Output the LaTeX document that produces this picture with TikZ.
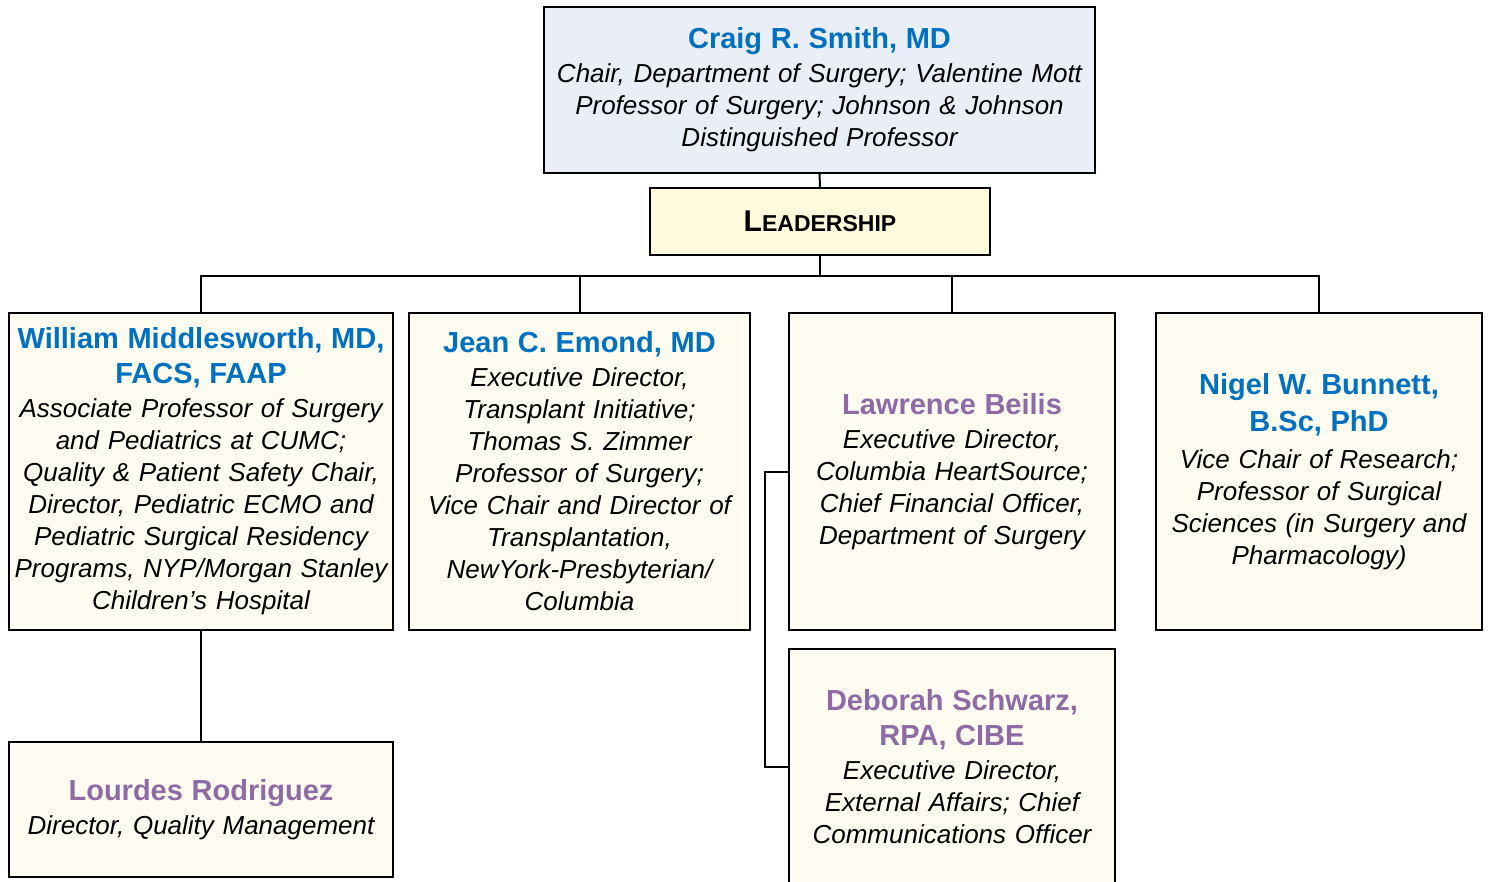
\documentclass[tikz,border=0pt]{standalone}
\usepackage{fontspec}
\setmainfont{Liberation Sans}
\definecolor{nameblue}{HTML}{0070C0}
\definecolor{namepurple}{HTML}{8F6BA5}
\definecolor{topfill}{HTML}{EAEFF7}
\definecolor{leadfill}{HTML}{FFFADC}
\definecolor{boxfill}{HTML}{FEFCF0}
\newcommand{\bn}[1]{{\fontsize{29}{35}\selectfont\upshape\bfseries\color{nameblue}#1}}
\newcommand{\pn}[1]{{\fontsize{29}{35}\selectfont\upshape\bfseries\color{namepurple}#1}}
\tikzset{
  orgbox/.style={draw=black, line width=2pt, fill=boxfill, inner sep=0pt, align=center,
    font=\fontsize{26}{32}\selectfont\itshape},
  conn/.style={draw=black, line width=2pt}
}
\begin{document}
\begin{tikzpicture}[x=1pt,y=-1pt]
\useasboundingbox (0,0) rectangle (1489,882);
\begin{scope}
\clip (0,0) rectangle (1489,882);
\node[orgbox, fill=topfill, text width=551pt, minimum height=166pt] (top) at (819.5,90)
  {\bn{Craig R. Smith, MD}\\[2pt]
   Chair, Department of Surgery; Valentine Mott\\
   Professor of Surgery; Johnson \& Johnson\\
   Distinguished Professor};
\node[orgbox, fill=leadfill, text width=340pt, minimum height=67pt, font=\bfseries] (lead) at (820,221.5)
  {{\fontsize{30}{30}\selectfont L}{\fontsize{23}{30}\selectfont EADERSHIP}};
\node[orgbox, text width=384pt, minimum height=317pt] (b1) at (201,471.5)
  {\bn{William Middlesworth, MD,}\\[3pt]
   \bn{FACS, FAAP}\\[2pt]
   Associate Professor of Surgery\\
   and Pediatrics at CUMC;\\
   Quality \& Patient Safety Chair,\\
   Director, Pediatric ECMO and\\
   Pediatric Surgical Residency\\
   Programs, NYP/Morgan Stanley\\
   Children’s Hospital};
\node[orgbox, text width=341pt, minimum height=317pt] (b2) at (579.5,471.5)
  {\bn{Jean C. Emond, MD}\\[2pt]
   Executive Director,\\
   Transplant Initiative;\\
   Thomas S. Zimmer\\
   Professor of Surgery;\\
   Vice Chair and Director of\\
   Transplantation,\\
   NewYork-Presbyterian/\\
   Columbia};
\node[orgbox, text width=326pt, minimum height=317pt] (b3) at (952,471.5)
  {\pn{Lawrence Beilis}\\[2pt]
   Executive Director,\\
   Columbia HeartSource;\\
   Chief Financial Officer,\\
   Department of Surgery};
\node[orgbox, text width=326pt, minimum height=317pt] (b4) at (1319,471.5)
  {\bn{Nigel W. Bunnett,}\\[5pt]
   \bn{B.Sc, PhD}\\[5pt]
   Vice Chair of Research;\\
   Professor of Surgical\\
   Sciences (in Surgery and\\
   Pharmacology)};
\node[orgbox, text width=384pt, minimum height=135pt] (b5) at (201,809.5)
  {\pn{Lourdes Rodriguez}\\[2pt]
   Director, Quality Management};
\node[orgbox, text width=326pt, minimum height=236pt] (b6) at (952,767)
  {\pn{Deborah Schwarz,}\\[3pt]
   \pn{RPA, CIBE}\\[2pt]
   Executive Director,\\
   External Affairs; Chief\\
   Communications Officer};
\coordinate (bus) at (820,276);
\draw[conn] (top.south) -- (lead.north);
\draw[conn] (lead.south) -- (bus);
\draw[conn] (b1.north) |- (bus) -| (b4.north);
\draw[conn] (b2.north) -- (b2.north |- bus);
\draw[conn] (b3.north) -- (b3.north |- bus);
\draw[conn] (b1.south) -- (b5.north);
\draw[conn] (b3.west) -- ++(-23,0) |- (b6.west);
\end{scope}
\end{tikzpicture}
\end{document}
